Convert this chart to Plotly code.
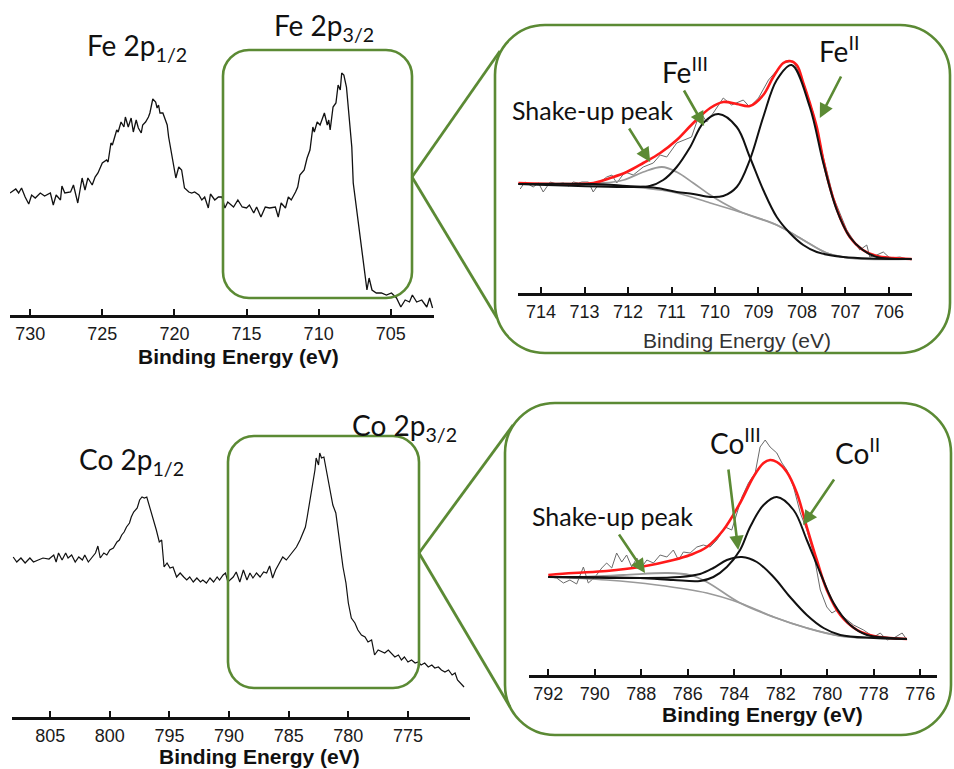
import plotly.graph_objects as go

# ---------------- data (binding energy in eV, intensity in a.u.) ----------------
fe_survey_be = [731.4, 731.0, 730.8, 730.6, 730.35, 730.1, 729.9, 729.65, 729.3, 729.0, 728.6, 728.4, 728.2, 727.9, 727.8,
                727.6, 727.2, 727.0, 726.7, 726.4, 726.2, 726.0, 725.7, 725.5, 725.3, 725.0, 724.7, 724.6, 724.4, 724.3,
                724.0, 723.9, 723.7, 723.5, 723.4, 723.2, 723.0, 722.85, 722.65, 722.5, 722.3, 722.2, 722.0, 721.8, 721.7,
                721.5, 721.3, 721.2, 721.1, 721.0, 720.8, 720.5, 720.4, 720.2, 720.1, 719.9, 719.7, 719.5, 719.3, 719.0,
                718.8, 718.6, 718.3, 718.1, 717.9, 717.65, 717.5, 717.2, 716.95, 716.7, 716.5, 716.3, 715.9, 715.6, 715.3,
                715.0, 714.8, 714.5, 714.3, 714.0, 713.7, 713.4, 713.0, 712.8, 712.6, 712.3, 712.1, 711.9, 711.6, 711.45,
                711.3, 711.0, 710.8, 710.6, 710.4, 710.3, 710.1, 709.9, 709.6, 709.4, 709.3, 709.2, 709.0, 708.8, 708.65,
                708.5, 708.4, 708.25, 708.07, 707.9, 707.7, 707.6, 707.4, 707.15, 707.0, 706.8, 706.65, 706.5, 706.3, 706.0,
                705.65, 705.3, 704.95, 704.6, 704.3, 704.0, 703.7, 703.5, 703.2, 702.85, 702.5, 702.3, 702.1]
fe_survey_int = [122, 126, 122, 127, 118, 111, 120, 117, 122, 119, 122, 110, 120, 115, 129,
                 122, 123, 130, 112, 137, 125, 137, 130, 138, 142, 152, 155, 153, 172, 170,
                 185, 183, 193, 188, 198, 188, 197, 183, 195, 187, 182, 190, 193, 198, 202,
                 216, 213, 207, 210, 202, 202, 190, 178, 160, 152, 137, 148, 145, 127, 123,
                 122, 123, 120, 115, 118, 107, 121, 115, 118, 118, 107, 113, 108, 115, 108,
                 107, 110, 102, 108, 98, 108, 107, 108, 98, 112, 107, 118, 115, 123, 128,
                 140, 145, 157, 165, 188, 183, 193, 190, 202, 190, 195, 185, 208, 212, 230,
                 225, 242, 240, 228, 202, 168, 132, 108, 82, 62, 42, 25, 37, 25, 22,
                 22, 20, 22, 17, 8, 15, 13, 20, 13, 15, 8, 17, 7]

co_survey_be = [808.1, 807.8, 807.45, 807.1, 806.7, 806.4, 806.0, 805.6, 805.1, 804.7, 804.5, 804.3, 804.0, 803.7, 803.5,
                803.2, 802.9, 802.6, 802.3, 802.1, 801.8, 801.5, 801.2, 801.0, 800.8, 800.5, 800.25, 800.0, 799.7, 799.4,
                799.2, 799.0, 798.8, 798.6, 798.35, 798.2, 798.0, 797.7, 797.5, 797.3, 797.1, 796.9, 796.7, 796.5, 796.3,
                796.1, 795.85, 795.65, 795.45, 795.2, 794.95, 794.7, 794.4, 794.1, 793.8, 793.55, 793.3, 793.0, 792.7, 792.4,
                792.2, 791.9, 791.6, 791.3, 791.0, 790.8, 790.5, 790.3, 790.1, 789.65, 789.4, 789.1, 788.8, 788.5, 788.25,
                788.0, 787.7, 787.4, 787.1, 786.85, 786.6, 786.35, 786.1, 785.8, 785.5, 785.2, 784.9, 784.6, 784.35, 784.05,
                783.8, 783.6, 783.45, 783.2, 783.0, 782.8, 782.7, 782.5, 782.4, 782.25, 782.05, 781.9, 781.7, 781.5, 781.3,
                781.05, 780.85, 780.65, 780.45, 780.2, 780.0, 779.75, 779.45, 779.2, 778.9, 778.6, 778.35, 778.05, 777.8, 777.5,
                777.2, 776.95, 776.65, 776.4, 776.1, 775.8, 775.55, 775.3, 775.0, 774.7, 774.4, 774.15, 773.9, 773.6, 773.3,
                773.0, 772.75, 772.45, 772.2, 771.9, 771.6, 771.3, 771.05, 770.85, 770.6, 770.3]
co_survey_int = [160, 155, 159, 154, 159, 155, 157, 159, 158, 162, 155, 164, 157, 164, 159,
                 162, 155, 160, 157, 162, 155, 159, 164, 171, 159, 164, 162, 167, 169, 175,
                 177, 182, 185, 190, 194, 200, 205, 209, 217, 220, 219, 220, 212, 204, 194,
                 187, 175, 177, 150, 154, 149, 150, 140, 144, 140, 137, 140, 135, 139, 135,
                 137, 134, 139, 135, 140, 137, 142, 144, 135, 140, 145, 135, 147, 137, 144,
                 139, 144, 140, 145, 144, 151, 139, 147, 154, 160, 157, 162, 167, 170, 177,
                 184, 190, 200, 217, 234, 247, 259, 252, 264, 259, 260, 250, 240, 227, 212,
                 204, 184, 167, 150, 134, 114, 99, 94, 87, 82, 80, 75, 77, 62, 67,
                 65, 64, 67, 64, 60, 62, 57, 60, 55, 57, 54, 55, 52, 54, 50,
                 52, 49, 50, 47, 45, 47, 42, 44, 37, 34, 30]

# Fe 2p3/2 fit
fe_raw_be = [714.48, 714.37, 714.18, 714.06, 713.95, 713.79, 713.64, 713.49, 713.37, 713.26, 713.14, 713.06, 712.91, 712.8,
             712.64, 712.49, 712.37, 712.26, 712.07, 711.88, 711.65, 711.42, 711.26, 711.11, 710.88, 710.69, 710.54, 710.34,
             710.19, 710.04, 709.81, 709.62, 709.35, 709.2, 709.0, 708.77, 708.62, 708.43, 708.2, 707.97, 707.74, 707.51,
             707.28, 706.97, 706.67, 706.51, 706.44, 706.28, 706.13, 705.98, 705.75, 705.48]
fe_raw_int = [104, 111, 106, 110, 101, 111, 109, 110, 107, 111, 110, 111, 111, 101,
              111, 116, 118, 110, 121, 118, 126, 130, 138, 136, 150, 153, 156, 181,
              171, 180, 195, 188, 193, 186, 195, 213, 221, 230, 232, 211, 180, 136,
              96, 63, 43, 48, 36, 38, 41, 35, 36, 33]
fe_env_be = [714.52, 712.8, 712.41, 712.03, 711.65, 711.26, 710.88, 710.5, 710.11, 709.81, 709.5, 709.2, 708.89, 708.66,
             708.43, 708.28, 708.12, 707.97, 707.82, 707.66, 707.51, 707.36, 707.13, 706.9, 706.6, 706.28, 705.9, 705.48]
fe_env_int = [110, 110, 115, 121, 130, 140, 153, 170, 185, 191, 189, 187, 198, 216,
              230, 232, 228, 210, 190, 166, 133, 106, 76, 56, 43, 37, 35, 34]
fe2_be = [714.52, 712.8, 712.03, 711.34, 710.88, 710.5, 710.11, 709.81, 709.5, 709.2, 708.89, 708.58, 708.24, 707.82,
          707.51, 707.2, 706.9, 706.6, 706.28, 705.48]
fe2_int = [109, 109, 107, 105, 101, 99, 96, 97, 106, 133, 176, 213, 228, 186,
           130, 83, 56, 43, 36, 34]
fe3_be = [714.52, 712.03, 711.5, 711.19, 710.88, 710.57, 710.27, 709.92, 709.5, 709.2, 708.89, 708.58, 708.28, 707.97,
          707.66, 707.05, 705.48]
fe3_int = [109, 106, 107, 113, 126, 146, 170, 179, 166, 136, 103, 76, 60, 48,
           41, 36, 34]
fe_sat_be = [714.52, 712.57, 712.1, 711.65, 711.22, 710.88, 710.5, 710.11, 709.81, 709.35, 708.58, 707.97, 707.43, 706.9, 705.48]
fe_sat_int = [109, 110, 113, 121, 126, 121, 110, 98, 90, 80, 68, 53, 40, 35, 34]
fe_bg_be = [714.52, 712.8, 711.65, 710.88, 710.11, 709.35, 708.58, 707.97, 707.43, 706.9, 705.48]
fe_bg_int = [109, 108, 105, 100, 90, 80, 68, 53, 40, 35, 34]

# Co 2p3/2 fit
co_raw_be = [791.93, 791.64, 791.35, 791.07, 790.78, 790.49, 790.28, 789.99, 789.7, 789.49, 789.27, 789.06, 788.84, 788.63,
             788.41, 788.19, 787.98, 787.76, 787.48, 787.19, 786.9, 786.62, 786.4, 786.19, 785.9, 785.61, 785.33, 785.04,
             784.75, 784.39, 784.11, 783.89, 783.67, 783.39, 783.1, 782.89, 782.67, 782.46, 782.17, 781.95, 781.74, 781.45,
             781.16, 780.88, 780.59, 780.3, 780.02, 779.8, 779.59, 779.3, 778.87, 778.44, 778.0, 777.72, 777.43, 777.14,
             776.78, 776.57]
co_raw_int = [98, 97, 92, 95, 91, 108, 92, 98, 107, 112, 107, 122, 113, 120,
              108, 117, 108, 115, 112, 120, 118, 125, 115, 123, 122, 128, 130, 128,
              135, 148, 145, 162, 178, 192, 202, 228, 235, 228, 222, 212, 205, 188,
              162, 145, 122, 85, 68, 62, 65, 58, 50, 45, 38, 42, 35, 37,
              42, 35]
co_env_be = [792.0, 790.92, 789.49, 788.05, 786.62, 785.9, 785.18, 784.47, 783.75, 783.18, 782.74, 782.46, 782.17, 781.74,
             781.31, 780.88, 780.45, 780.02, 779.44, 778.72, 778.0, 777.29, 776.57]
co_env_int = [100, 102, 104, 108, 115, 120, 128, 145, 172, 198, 212, 215, 213, 203,
              182, 148, 115, 85, 60, 45, 39, 37, 36]
co2_be = [792.0, 790.92, 788.05, 786.62, 785.47, 784.9, 784.32, 783.75, 783.32, 782.74, 782.17, 781.45, 780.88, 780.3,
          779.73, 779.01, 778.29, 777.29, 776.57]
co2_int = [98, 98, 97, 95, 94, 98, 108, 125, 148, 170, 178, 165, 135, 102,
           72, 50, 40, 37, 36]
co3_be = [792.0, 788.05, 786.33, 785.47, 784.9, 784.32, 783.67, 783.03, 782.31, 781.6, 780.88, 780.16, 779.44, 778.0, 776.57]
co3_int = [98, 97, 98, 101, 107, 115, 118, 113, 98, 78, 60, 47, 40, 37, 36]
co_sat_be = [792.0, 790.92, 788.77, 786.9, 785.9, 785.18, 783.75, 782.31, 780.88, 779.44, 778.0, 776.57]
co_sat_int = [98, 98, 100, 102, 100, 93, 72, 58, 47, 39, 37, 36]
co_bg_be = [792.0, 789.49, 787.33, 785.18, 783.75, 782.31, 780.88, 779.44, 778.0, 776.57]
co_bg_int = [98, 95, 90, 82, 72, 58, 47, 39, 37, 36]

fe_survey_ticks = [730, 725, 720, 715, 710, 705]
fe_fit_ticks = [714, 713, 712, 711, 710, 709, 708, 707, 706]
co_survey_ticks = [805, 800, 795, 790, 785, 780, 775]
co_fit_ticks = [792, 790, 788, 786, 784, 782, 780, 778, 776]

# ---------------- layout helpers ----------------
W, H = 954, 769
GREEN = "#5b8a34"
TICKFONT = "Liberation Sans, Arial, sans-serif"
LABELFONT = "Lato, Noto Sans, sans-serif"


def px(x, y):
    return x / W, 1 - y / H


def dom_x(a, b):
    return [a / W, b / W]


def dom_y(top, bottom):
    return [1 - bottom / H, 1 - top / H]


def rounded_rect(x0, y0, x1, y1, r):
    k = 0.5523 * r
    pts = []
    def p(x, y):
        X, Y = px(x, y)
        return f"{X:.5f},{Y:.5f}"
    d = (f"M {p(x0 + r, y0)} L {p(x1 - r, y0)} "
         f"C {p(x1 - r + k, y0)} {p(x1, y0 + r - k)} {p(x1, y0 + r)} "
         f"L {p(x1, y1 - r)} "
         f"C {p(x1, y1 - r + k)} {p(x1 - r + k, y1)} {p(x1 - r, y1)} "
         f"L {p(x0 + r, y1)} "
         f"C {p(x0 + r - k, y1)} {p(x0, y1 - r + k)} {p(x0, y1 - r)} "
         f"L {p(x0, y0 + r)} "
         f"C {p(x0, y0 + r - k)} {p(x0 + r - k, y0)} {p(x0 + r, y0)} Z")
    return dict(type="path", path=d, xref="paper", yref="paper",
                line=dict(color=GREEN, width=2.6), fillcolor="rgba(0,0,0,0)", layer="above")


def seg(x0, y0, x1, y1):
    a = px(x0, y0)
    b = px(x1, y1)
    return dict(type="line", xref="paper", yref="paper", x0=a[0], y0=a[1], x1=b[0], y1=b[1],
                line=dict(color=GREEN, width=2.8))


fig = go.Figure()

# survey spectra
fig.add_trace(go.Scatter(x=fe_survey_be, y=fe_survey_int, mode="lines",
                         line=dict(color="#111111", width=1.3), xaxis="x", yaxis="y"))
fig.add_trace(go.Scatter(x=co_survey_be, y=co_survey_int, mode="lines",
                         line=dict(color="#111111", width=1.2), xaxis="x3", yaxis="y3"))

# Fe fit
fig.add_trace(go.Scatter(x=fe_raw_be, y=fe_raw_int, mode="lines",
                         line=dict(color="#6a6a6a", width=1), xaxis="x2", yaxis="y2"))
fig.add_trace(go.Scatter(x=fe_bg_be, y=fe_bg_int, mode="lines", line_shape="spline",
                         line=dict(color="#9a9a9a", width=1.6), xaxis="x2", yaxis="y2"))
fig.add_trace(go.Scatter(x=fe_sat_be, y=fe_sat_int, mode="lines", line_shape="spline",
                         line=dict(color="#9a9a9a", width=1.8), xaxis="x2", yaxis="y2"))
fig.add_trace(go.Scatter(x=fe_env_be, y=fe_env_int, mode="lines", line_shape="spline",
                         line=dict(color="#ff1a1a", width=2.6), xaxis="x2", yaxis="y2"))
fig.add_trace(go.Scatter(x=fe3_be, y=fe3_int, mode="lines", line_shape="spline",
                         line=dict(color="#111111", width=2), xaxis="x2", yaxis="y2"))
fig.add_trace(go.Scatter(x=fe2_be, y=fe2_int, mode="lines", line_shape="spline",
                         line=dict(color="#111111", width=2), xaxis="x2", yaxis="y2"))

# Co fit
fig.add_trace(go.Scatter(x=co_raw_be, y=co_raw_int, mode="lines",
                         line=dict(color="#6a6a6a", width=1), xaxis="x4", yaxis="y4"))
fig.add_trace(go.Scatter(x=co_bg_be, y=co_bg_int, mode="lines", line_shape="spline",
                         line=dict(color="#9a9a9a", width=1.6), xaxis="x4", yaxis="y4"))
fig.add_trace(go.Scatter(x=co_sat_be, y=co_sat_int, mode="lines", line_shape="spline",
                         line=dict(color="#9a9a9a", width=1.8), xaxis="x4", yaxis="y4"))
fig.add_trace(go.Scatter(x=co_env_be, y=co_env_int, mode="lines", line_shape="spline",
                         line=dict(color="#ff1a1a", width=2.6), xaxis="x4", yaxis="y4"))
fig.add_trace(go.Scatter(x=co3_be, y=co3_int, mode="lines", line_shape="spline",
                         line=dict(color="#111111", width=2), xaxis="x4", yaxis="y4"))
fig.add_trace(go.Scatter(x=co2_be, y=co2_int, mode="lines", line_shape="spline",
                         line=dict(color="#111111", width=2), xaxis="x4", yaxis="y4"))


def xax(domain, rng, ticks, anchor):
    return dict(domain=domain, range=rng, tickvals=ticks, ticks="inside", ticklen=6, tickwidth=2,
                tickcolor="#111", showline=True, linecolor="#111", linewidth=3, showgrid=False,
                zeroline=False, anchor=anchor, tickfont=dict(family=TICKFONT, size=18, color="#1a1a1a"))


def yax(domain, rng, anchor):
    return dict(domain=domain, range=rng, visible=False, anchor=anchor, showgrid=False, zeroline=False)


annotations = []


def label(text, x, y, size, anchor="left", color="#111", family=LABELFONT):
    X, Y = px(x, y)
    annotations.append(dict(text=text, x=X, y=Y, xref="paper", yref="paper", showarrow=False,
                            xanchor=anchor, yanchor="middle",
                            font=dict(family=family, size=size, color=color)))


def arrow(xref, yref, x, y, ax, ay):
    annotations.append(dict(text="", x=x, y=y, xref=xref, yref=yref, ax=ax, ay=ay,
                            axref="pixel", ayref="pixel", showarrow=True, arrowhead=2,
                            arrowsize=1.1, arrowwidth=2.6, arrowcolor=GREEN))


# peak labels
label("Fe 2p<sub>1/2</sub>", 85, 47, 28)
label("Fe 2p<sub>3/2</sub>", 272, 27, 28)
label("Co 2p<sub>1/2</sub>", 77, 461, 28)
label("Co 2p<sub>3/2</sub>", 350, 427, 28)
label("Shake-up peak", 510, 110, 25)
label("Fe<sup>III</sup>", 660, 71, 28)
label("Fe<sup>II</sup>", 817, 49, 28)
label("Shake-up peak", 530, 516, 25)
label("Co<sup>III</sup>", 708, 441, 28)
label("Co<sup>II</sup>", 833, 451, 28)

# axis titles
label("<b>Binding Energy (eV)</b>", 239, 356, 21, anchor="center", family=TICKFONT)
label("Binding Energy (eV)", 737, 340, 21, anchor="center", color="#333", family=TICKFONT)
label("<b>Binding Energy (eV)</b>", 259, 756, 21, anchor="center", family=TICKFONT)
label("<b>Binding Energy (eV)</b>", 762, 714, 21, anchor="center", family=TICKFONT)

# arrows pointing to components
arrow("x2", "y2", 711.49, 131, -22, -35)
arrow("x2", "y2", 710.25, 167, -21, -37)
arrow("x2", "y2", 707.59, 175, 22, -43)
arrow("x4", "y4", 787.84, 102, -27, -40)
arrow("x4", "y4", 783.83, 125, -10, -82)
arrow("x4", "y4", 781.04, 150, 32, -47)

shapes = [
    rounded_rect(223, 50, 412, 298, 26),
    rounded_rect(495, 25, 950, 353, 50),
    seg(412, 177, 500, 51),
    seg(412, 177, 497, 318),
    rounded_rect(228, 436, 419, 688, 26),
    rounded_rect(505, 403, 951, 735, 50),
    seg(419, 553, 513, 425),
    seg(419, 553, 510, 707),
]

fig.update_layout(
    width=W, height=H, margin=dict(l=0, r=0, t=0, b=0),
    paper_bgcolor="white", plot_bgcolor="rgba(0,0,0,0)", showlegend=False,
    xaxis=xax(dom_x(10, 434), [731.4, 702.0], fe_survey_ticks, "y"),
    yaxis=yax(dom_y(60, 315), [0, 255], "x"),
    xaxis2=xax(dom_x(518, 912), [714.53, 705.47], fe_fit_ticks, "y2"),
    yaxis2=yax(dom_y(40, 293), [0, 253], "x2"),
    xaxis3=xax(dom_x(12, 470), [808.2, 769.8], co_survey_ticks, "y3"),
    yaxis3=yax(dom_y(440, 717), [0, 277], "x3"),
    xaxis4=xax(dom_x(529, 937), [792.83, 775.28], co_fit_ticks, "y4"),
    yaxis4=yax(dom_y(420, 675), [0, 255], "x4"),
    annotations=annotations, shapes=shapes,
)

fig.write_html("out.html", config={"displayModeBar": False},
               post_script="document.body.style.margin='0';")
